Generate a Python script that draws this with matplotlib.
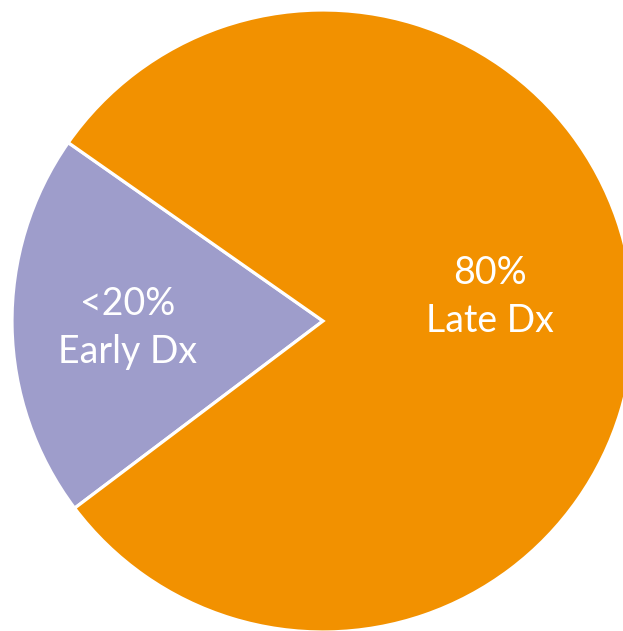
import matplotlib.pyplot as plt

labels = ["<20%\nEarly Dx", "80%\nLate Dx"]
shares = [20, 80]
colors = ["#9E9DCB", "#F29100"]

# label spots in pie-radius units (x, y from centre)
label_pos = [(-0.628, -0.022), (0.537, 0.077)]

R = 311
fig = plt.figure(figsize=(6.23, 6.31), dpi=100)
ax = fig.add_axes([0, 0, 1, 1])
ax.pie(shares, colors=colors, startangle=145, radius=R, center=(0, 0),
       wedgeprops=dict(edgecolor="white", linewidth=2.3))
for txt, (x, y) in zip(labels, label_pos):
    ax.text(x * R, y * R, txt, color="white", ha="center", va="center",
            fontsize=27, family="Lato", linespacing=1.42)

ax.set_xlim(-323, 300)
ax.set_ylim(-310, 321)
ax.set_aspect("equal")
ax.axis("off")
fig.savefig("out.png", dpi=100)
